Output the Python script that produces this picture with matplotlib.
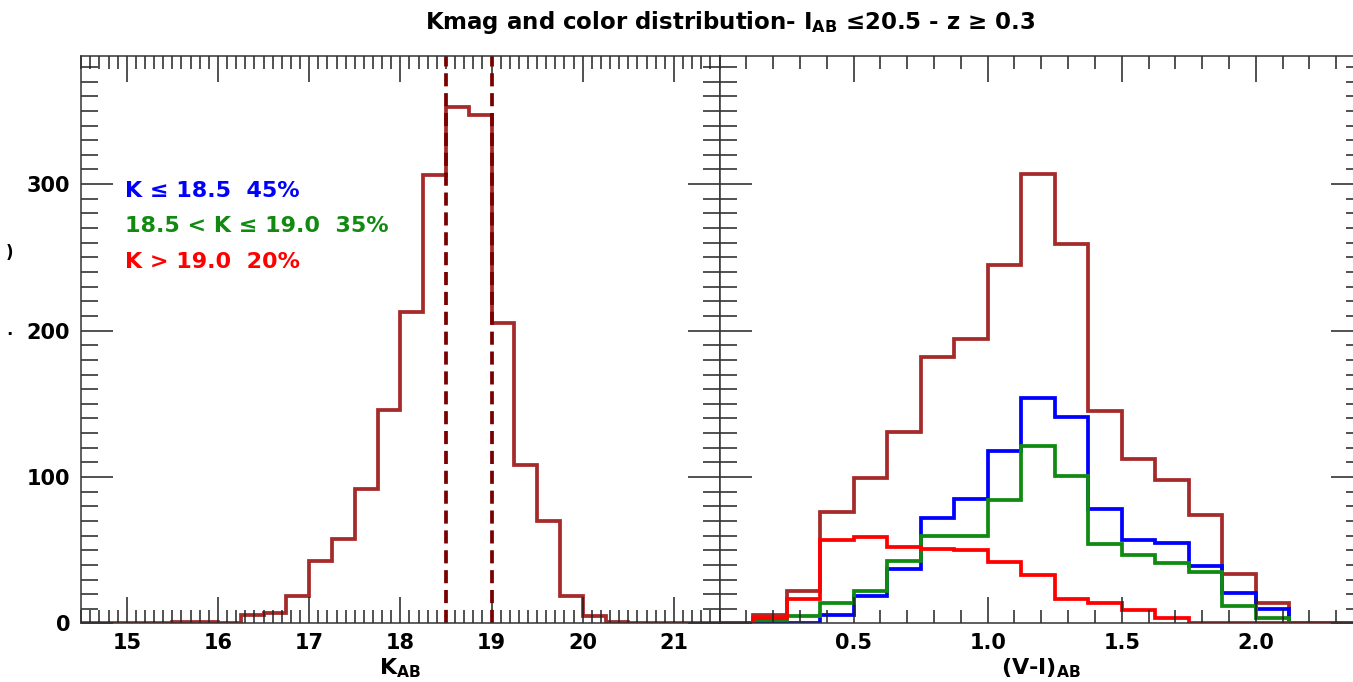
import numpy as np
import matplotlib
matplotlib.use("Agg")
import matplotlib.pyplot as plt
from matplotlib.ticker import MultipleLocator, FixedLocator

plt.rcParams["font.family"] = ["DejaVu Sans"]
plt.rcParams["font.weight"] = "bold"
plt.rcParams["axes.labelweight"] = "bold"
plt.rcParams["mathtext.default"] = "bf"

# K magnitude histogram (bin width 0.25, first bin at 14.5)
kmag_start, kmag_width = 14.5, 0.25
kmag_counts = [0, 0, 0, 0, 1, 1, 0.5, 6, 7, 19, 43, 58, 92, 146,
               213, 306, 353, 347, 205, 108, 70, 19, 5, 1, 0.5, 0.5, 0.5, 0.5]
kmag_cuts = [18.5, 19.0]

# (V-I) colour histograms (bin width 0.125, first bin at 0.0)
vi_start, vi_width = 0.0, 0.125
vi_all = [0, 6, 22, 76, 99, 131, 182, 194, 245, 307, 259, 145, 112, 98, 74, 34, 14, 0, 0, 0]
vi_bright = [0, 0, 0.5, 6, 19, 37, 72, 85, 118, 154, 141, 78, 57, 55, 39, 21, 10, 0, 0, 0]
vi_mid = [0, 2.5, 5, 14, 22, 43, 60, 60, 84, 121, 101, 54, 47, 41, 35, 12, 3.5, 0, 0, 0]
vi_faint = [0, 3.5, 17, 57, 59, 52, 51, 50, 42, 33, 17, 14, 9, 3.5, 0.5, 0, 0, 0, 0, 0]

legend_lines = ["K \u2264 18.5  45%", "18.5 < K \u2264 19.0  35%", "K > 19.0  20%"]

BROWN = "#a52a2a"
BLUE = "#0000ff"
GREEN = "#108a10"
RED = "#ff0000"
LW = 2.7


def edges_for(start, width, counts):
    return start + width * np.arange(len(counts) + 1)


def style_axes(ax, xmajor, xminor):
    ax.set_ylim(0, 387.5)
    ax.yaxis.set_major_locator(MultipleLocator(100))
    ax.yaxis.set_minor_locator(MultipleLocator(10))
    ax.xaxis.set_major_locator(xmajor)
    ax.xaxis.set_minor_locator(MultipleLocator(xminor))
    ax.tick_params(which="both", direction="in", top=True, right=True,
                   width=1.1, labelsize=15, color="#222222")
    ax.tick_params(axis="x", which="major", length=19, pad=7)
    ax.tick_params(axis="x", which="minor", length=9.5)
    ax.tick_params(axis="y", which="major", length=23, pad=8)
    ax.tick_params(axis="y", which="minor", length=12)
    for s in ax.spines.values():
        s.set_linewidth(1.1)
        s.set_color("#333333")


fig = plt.figure(figsize=(13.53, 6.82), dpi=100)
ax_k = fig.add_axes([0.0600, 0.0858, 0.4718, 0.8321])
ax_c = fig.add_axes([0.5318, 0.0858, 0.4756, 0.8321])

# left: K magnitude
ax_k.stairs(kmag_counts, edges_for(kmag_start, kmag_width, kmag_counts),
            color=BROWN, lw=LW)
for cut in kmag_cuts:
    ax_k.axvline(cut, color="#7a0000", lw=LW, dashes=(3.5, 1.8))
ax_k.set_xlim(14.5, 21.5)
style_axes(ax_k, MultipleLocator(1), 0.1)
ax_k.set_xlabel("K$_{AB}$", fontsize=16, fontweight="bold", labelpad=2)

for i, (txt, col) in enumerate(zip(legend_lines, [BLUE, GREEN, RED])):
    ax_k.text(0.069, 0.752 - 0.063 * i, txt, transform=ax_k.transAxes,
              color=col, fontsize=16, fontweight="bold", va="baseline")

# right: (V-I) colour
vi_edges = edges_for(vi_start, vi_width, vi_all)
ax_c.stairs(vi_all, vi_edges, color=BROWN, lw=LW)
ax_c.stairs(vi_bright, vi_edges, color=BLUE, lw=LW)
ax_c.stairs(vi_mid, vi_edges, color=GREEN, lw=LW)
ax_c.stairs(vi_faint, vi_edges, color=RED, lw=LW)
ax_c.set_xlim(0, 2.4)
style_axes(ax_c, FixedLocator([0.5, 1.0, 1.5, 2.0]), 0.1)
ax_c.xaxis.set_major_formatter(lambda v, p: f"{v:.1f}")
ax_c.tick_params(axis="y", labelleft=False)
ax_c.set_xlabel("(V-I)$_{AB}$", fontsize=16, fontweight="bold", labelpad=2)

ax_k.yaxis.set_major_formatter(lambda v, p: f"{v:.0f}")

fig.text(0.540, 0.967, "Kmag and color distribution- I$_{AB}$ \u226420.5 - z \u2265 0.3",
         ha="center", va="center", fontsize=16.5, fontweight="bold")

# clipped remains of a y label at the far left
fig.text(0.007, 1 - 253 / 682, ")", fontsize=12, ha="center", va="center")
fig.text(0.007, 1 - 330 / 682, ".", fontsize=12, ha="center", va="center")

fig.savefig("out.png", dpi=100)
